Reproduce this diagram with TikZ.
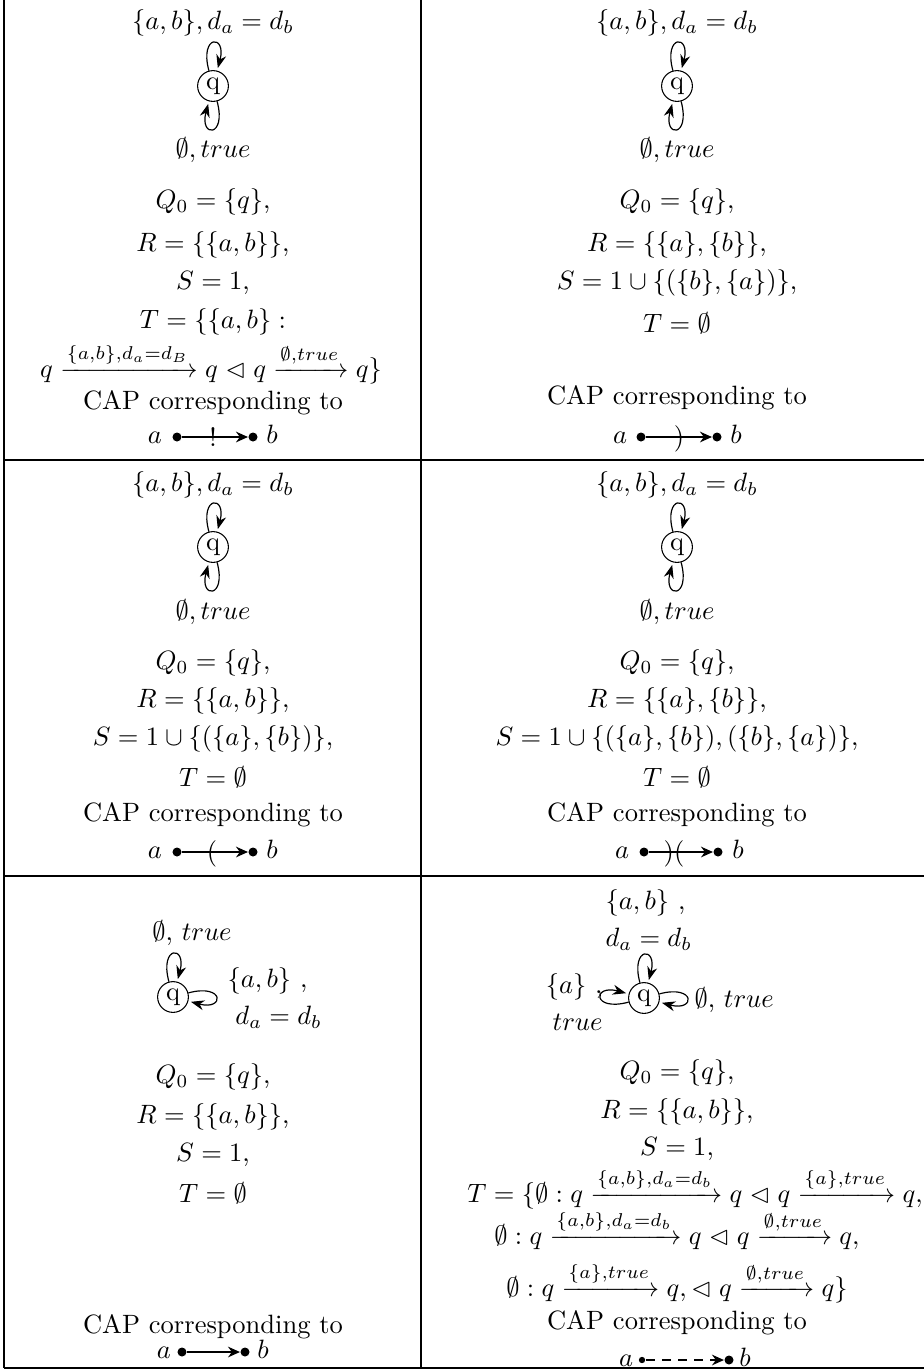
\documentclass[tikz,border=0pt]{standalone}
\usepackage{amsmath,amssymb}
\usepackage{tikz}
\usetikzlibrary{arrows.meta}

\begin{document}
\begin{tikzpicture}[x=0.3774pt, y=-0.3774pt, >=Stealth,
    estado/.style={draw, circle, inner sep=1.2pt},
    bucle/.style={-{Stealth[length=3.2pt,width=2.6pt]}, line width=0.45pt},
    punto/.style={circle, fill=black, inner sep=0pt, minimum size=3.4pt},
    puntito/.style={circle, fill=black, inner sep=0pt, minimum size=2.4pt},
    flecha/.style={-{Stealth[length=4.5pt,width=4pt]}, line width=0.9pt},
    txt/.style={inner sep=0pt}]
    \useasboundingbox (0,0) rectangle (924,1370);
    % tabla
    \draw[line width=0.5pt] (4,0) -- (4,1368) (421,0) -- (421,1368);
    \draw[line width=0.6pt] (4,460) -- (924,460) (4,876) -- (924,876) (4,1368) -- (924,1368);

    % celda 1 (arriba izquierda)
    \node[estado] (q1) at (213,86) {q};
    \path (q1) edge[bucle, loop above] (q1) edge[bucle, loop below] (q1);
    \node[txt] (e1a) at (213,23) {$\{a,b\}, d_a = d_b$};
    \node[txt] (e1b) at (213,150) {$\emptyset, true$};
    \node[txt] (Q1) at (213,202) {$Q_0 = \{q\}$,};
    \node[txt] (R1) at (213,245) {$R = \{\{a,b\}\}$,};
    \node[txt] (S1) at (213,283) {$S = 1$,};
    \node[txt] (T1) at (213,322) {$T = \{\{a,b\}:$};
    \node[txt, anchor=base] (T1b) at (211,377) {$q \xrightarrow{\{a,b\},d_a=d_B} q \vartriangleleft q \xrightarrow{\emptyset,true} q\}$};
    \node[txt] (C1) at (213,403) {CAP corresponding to};
    \node[txt, anchor=base] (a1) at (155,443) {$a$};
    \node[txt, anchor=base] (b1) at (272,443) {$b$};
    \node[punto] (p1a) at (177,437) {};
    \node[punto] (p1b) at (253,437) {};
    \draw[flecha] (p1a) -- (p1b);
    \node[txt] (m1) at (213,437) {!};

    % celda 2 (arriba derecha)
    \node[estado] (q2) at (677,86) {q};
    \path (q2) edge[bucle, loop above] (q2) edge[bucle, loop below] (q2);
    \node[txt] (e2a) at (677,23) {$\{a,b\}, d_a = d_b$};
    \node[txt] (e2b) at (677,150) {$\emptyset, true$};
    \node[txt] (Q2) at (677,202) {$Q_0 = \{q\}$,};
    \node[txt] (R2) at (677,245) {$R = \{\{a\},\{b\}\}$,};
    \node[txt] (S2) at (677,283) {$S = 1 \cup \{(\{b\},\{a\})\}$,};
    \node[txt] (T2) at (677,323) {$T = \emptyset$};
    \node[txt] (C2) at (677,398) {CAP corresponding to};
    \node[txt, anchor=base] (a2) at (620,443) {$a$};
    \node[txt, anchor=base] (b2) at (736,443) {$b$};
    \node[punto] (p2a) at (641,437) {};
    \node[punto] (p2b) at (717,437) {};
    \draw[flecha] (p2a) -- (p2b);
    \node[txt] (m2) at (679,439) {)};

    % celda 3 (centro izquierda)
    \node[estado] (q3) at (213,547) {q};
    \path (q3) edge[bucle, loop above] (q3) edge[bucle, loop below] (q3);
    \node[txt] (e3a) at (213,485) {$\{a,b\}, d_a = d_b$};
    \node[txt] (e3b) at (213,612) {$\emptyset, true$};
    \node[txt] (Q3) at (213,663) {$Q_0 = \{q\}$,};
    \node[txt] (R3) at (213,701) {$R = \{\{a,b\}\}$,};
    \node[txt] (S3) at (213,739) {$S = 1 \cup \{(\{a\},\{b\})\}$,};
    \node[txt] (T3) at (213,777) {$T = \emptyset$};
    \node[txt] (C3) at (213,815) {CAP corresponding to};
    \node[txt, anchor=base] (a3) at (155,858) {$a$};
    \node[txt, anchor=base] (b3) at (272,858) {$b$};
    \node[punto] (p3a) at (177,852) {};
    \node[punto] (p3b) at (253,852) {};
    \draw[flecha] (p3a) -- (p3b);
    \node[txt] (m3) at (212,854) {(};

    % celda 4 (centro derecha)
    \node[estado] (q4) at (677,547) {q};
    \path (q4) edge[bucle, loop above] (q4) edge[bucle, loop below] (q4);
    \node[txt] (e4a) at (677,485) {$\{a,b\}, d_a = d_b$};
    \node[txt] (e4b) at (677,612) {$\emptyset, true$};
    \node[txt] (Q4) at (677,663) {$Q_0 = \{q\}$,};
    \node[txt] (R4) at (677,701) {$R = \{\{a\},\{b\}\}$,};
    \node[txt] (S4) at (677,739) {$S = 1 \cup \{(\{a\},\{b\}),(\{b\},\{a\})\}$,};
    \node[txt] (T4) at (677,777) {$T = \emptyset$};
    \node[txt] (C4) at (677,815) {CAP corresponding to};
    \node[txt, anchor=base] (a4) at (622,858) {$a$};
    \node[txt, anchor=base] (b4) at (738,858) {$b$};
    \node[punto] (p4a) at (644,852) {};
    \node[punto] (p4b) at (718,852) {};
    \draw[flecha] (p4a) -- (p4b);
    \node[txt] (m4) at (674,854) {)(};

    % celda 5 (abajo izquierda)
    \node[estado] (q5) at (173,997) {q};
    \path (q5) edge[bucle, loop above] (q5) edge[bucle, loop right] (q5);
    \node[txt] (e5a) at (192,933) {$\emptyset$, $true$};
    \node[txt, anchor=west, align=left] (e5b) at (227,998) {$\{a,b\}$ ,\\[2pt] \hspace*{3pt}$d_a = d_b$};
    \node[txt] (Q5) at (213,1077) {$Q_0 = \{q\}$,};
    \node[txt] (R5) at (213,1117) {$R = \{\{a,b\}\}$,};
    \node[txt] (S5) at (213,1155) {$S = 1$,};
    \node[txt] (T5) at (213,1193) {$T = \emptyset$};
    \node[txt] (C5) at (213,1327) {CAP corresponding to};
    \node[txt, anchor=base] (a5) at (164,1358) {$a$};
    \node[txt, anchor=base] (b5) at (263,1358) {$b$};
    \node[punto] (p5a) at (182,1352) {};
    \node[punto] (p5b) at (245,1352) {};
    \draw[flecha] (p5a) -- (p5b);

    % celda 6 (abajo derecha)
    \node[estado] (q6) at (644,998) {q};
    \path (q6) edge[bucle, loop above] (q6) edge[bucle, loop left] (q6) edge[bucle, loop right] (q6);
    \node[txt, anchor=west, align=left] (e6a) at (605,920) {$\{a,b\}$ ,\\[2pt] $d_a = d_b$};
    \node[txt, anchor=east, align=right] (e6b) at (603,1002) {$\{a\}$ ,\\[2pt] $true$};
    \node[txt, anchor=west] (e6c) at (694,1000) {$\emptyset$, $true$};
    \node[txt] (Q6) at (677,1073) {$Q_0 = \{q\}$,};
    \node[txt] (R6) at (677,1112) {$R = \{\{a,b\}\}$,};
    \node[txt] (S6) at (677,1149) {$S = 1$,};
    \node[txt, anchor=base] (T6) at (695,1202) {$T = \{\emptyset : q \xrightarrow{\{a,b\},d_a=d_b} q \vartriangleleft q \xrightarrow{\{a\},true} q,$};
    \node[txt, anchor=base] (T6b) at (677,1244) {$\emptyset : q \xrightarrow{\{a,b\},d_a=d_b} q \vartriangleleft q \xrightarrow{\emptyset,true} q,$};
    \node[txt, anchor=base] (T6c) at (677,1296) {$\emptyset : q \xrightarrow{\{a\},true} q, \vartriangleleft q \xrightarrow{\emptyset,true} q\}$};
    \node[txt] (C6) at (677,1323) {CAP corresponding to};
    \node[txt, anchor=base] (a6) at (626,1366) {$a$};
    \node[txt, anchor=base] (b6) at (745,1366) {$b$};
    \node[puntito] (p6a) at (642,1360) {};
    \node[punto] (p6b) at (729,1360) {};
    \draw[flecha, dashed, dash pattern=on 3.5pt off 2.6pt] (p6a) -- (p6b);
\end{tikzpicture}
\end{document}
